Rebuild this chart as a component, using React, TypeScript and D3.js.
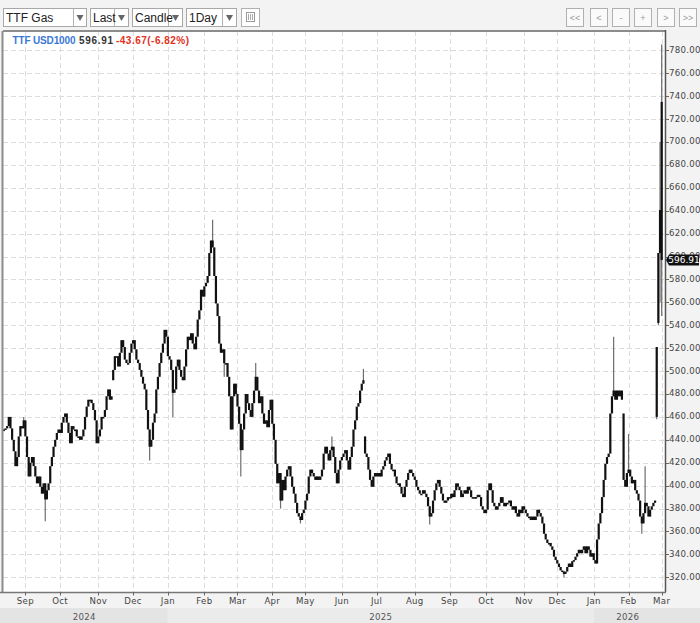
import React, { useEffect } from 'react';
import * as d3 from 'd3';

// --- data ---
const START_DATE = '2024-08-14';
const HOLIDAYS = ['2024-12-25', '2025-01-01', '2025-04-18', '2025-04-21', '2025-12-25', '2026-01-01'];

// daily closes, Aug 2024 - Feb 2025
const closesA = [
  449, 450, 452, 460, 450, 440, 430, 417, 425, 443, 452, 450, 457, 443, 425, 408, 420, 425, 417, 408,
  402, 408, 399, 393, 402, 388, 396, 402, 417, 425, 434, 440, 446, 449, 446, 455, 460, 463, 455, 446,
  437, 452, 449, 449, 443, 443, 440, 443, 449, 460, 469, 475, 475, 472, 466, 457, 437, 443, 449, 460,
  460, 466, 478, 484, 475, 478, 501, 513, 513, 504, 516, 527, 521, 510, 507, 507, 516, 524, 527, 519,
  510, 507, 501, 495, 489, 484, 466, 449, 434, 440, 455, 463, 484, 495, 507, 516, 524, 536, 530, 513,
  510, 501, 481, 484, 504, 510, 501, 495, 492, 504, 519, 530, 527, 533, 524, 519, 530, 545, 553, 571,
  565, 574, 577, 583, 603, 614, 608, 583, 559, 548, 524, 516, 519, 507,
];

// daily closes, Mar 2025 - Sep 2025
const closesB = [
  507, 495, 478, 449, 478, 489, 480, 469, 454, 431, 449, 463, 480, 472, 466, 460, 472, 483, 495, 483,
  472, 478, 463, 454, 457, 451, 466, 475, 454, 440, 419, 402, 411, 387, 405, 396, 408, 414, 417, 408,
  399, 393, 385, 376, 373, 370, 376, 379, 387, 393, 408, 414, 411, 408, 405, 408, 405, 408, 414, 428,
  434, 428, 422, 431, 434, 425, 411, 402, 414, 422, 425, 428, 431, 422, 414, 425, 434, 449, 457, 469,
  472, 483, 489, 492, 428, 425, 414, 405, 399, 408, 411, 408, 411, 408, 414, 417, 422, 425, 428, 419,
  414, 414, 408, 402, 402, 399, 393, 390, 399, 405, 411, 414, 411, 408, 405, 399, 396, 393, 393, 396,
  393, 390, 382, 373, 376, 387, 396, 402, 405, 399, 393, 387,
];

// daily closes, Sep 2025 - Feb 2026
const closesC = [
  385, 387, 390, 389, 393, 390, 396, 402, 399, 396, 390, 393, 396, 393, 399, 396, 390, 390, 390, 390,
  392, 390, 382, 379, 376, 379, 396, 402, 396, 385, 382, 379, 382, 385, 390, 385, 382, 385, 385, 387,
  382, 379, 382, 376, 373, 379, 376, 382, 379, 376, 373, 373, 370, 373, 370, 373, 379, 376, 373, 367,
  358, 353, 350, 350, 347, 344, 338, 335, 332, 329, 326, 325, 323, 325, 329, 332, 329, 334, 335, 338,
  341, 344, 341, 344, 347, 341, 347, 344, 338, 341, 335, 332, 353, 367, 376, 390, 405, 419, 425, 428,
  463, 478, 483, 475, 483, 478, 483, 475, 405, 399, 411, 414, 408, 402, 405, 396, 393, 387, 373, 367,
  376, 385, 382, 373, 379, 382, 385, 387,
];

// last sessions with full OHLC
const finalOpen = [460, 542, 603, 735];
const finalHigh = [521, 603, 700, 785];
const finalLow = [458, 540, 560, 548];
const finalClose = [521, 603, 640.58, 596.91];

// sessions that opened away from the prior close: [index, open]
const gapOpens: [number, number][] = [[66, 492], [218, 443], [374, 463]];
// visible wick extremes: [index, value]
const wickHighs: [number, number][] = [[12, 460], [126, 632], [152, 507], [198, 443], [217, 502], [368, 530], [377, 445], [387, 417]];
const wickLows: [number, number][] = [[25, 369], [88, 422], [102, 460], [133, 495], [143, 408], [167, 380], [179, 367], [257, 366], [338, 320], [385, 358]];

const yTickValues = [320, 340, 360, 380, 400, 420, 440, 460, 480, 500, 520, 540, 560, 580, 600, 620, 640, 660, 680, 700, 720, 740, 760, 780];

const LAST_PRICE = 596.91;
const CHANGE_LABEL = '-43.67(-6.82%)';
const SYMBOL_LABEL = 'TTF USD1000';

const dropdowns = [
  { label: 'TTF Gas', x: 3, w: 83, arrowW: 13 },
  { label: 'Last', x: 90, w: 38, arrowW: 14 },
  { label: 'Candle', x: 132, w: 50, arrowW: 14 },
  { label: '1Day', x: 186, w: 50, arrowW: 14 },
];
const navButtons = ['<<', '<', '-', '+', '>', '>>'];
const navButtonX = [566, 590, 612, 634, 657, 679];

// --- layout ---
const W = 700;
const H = 623;
const plot = { left: 3, right: 665, top: 31, bottom: 592 };
const font = '"DejaVu Sans", Verdana, sans-serif';
const uiFont = '"Liberation Sans", Arial, sans-serif';

interface Candle { i: number; date: Date; o: number; h: number; l: number; c: number; }

function buildCandles(): Candle[] {
  const closes = [...closesA, ...closesB, ...closesC];
  const n = closes.length + finalClose.length;
  const parse = d3.timeParse('%Y-%m-%d');
  const fmt = d3.timeFormat('%Y-%m-%d');
  const dates: Date[] = [];
  let d = parse(START_DATE)!;
  while (dates.length < n) {
    const wd = d.getDay();
    if (wd !== 0 && wd !== 6 && !HOLIDAYS.includes(fmt(d))) dates.push(d);
    d = d3.timeDay.offset(d, 1);
  }
  const gaps = new Map(gapOpens);
  const highs = new Map(wickHighs);
  const lows = new Map(wickLows);
  const out: Candle[] = [];
  closes.forEach((c, i) => {
    const o = gaps.get(i) ?? (i > 0 ? closes[i - 1] : c);
    const h = Math.max(o, c, highs.get(i) ?? -Infinity);
    const l = Math.min(o, c, lows.get(i) ?? Infinity);
    out.push({ i, date: dates[i], o, h, l, c });
  });
  finalClose.forEach((c, k) => {
    const i = closes.length + k;
    out.push({ i, date: dates[i], o: finalOpen[k], h: finalHigh[k], l: finalLow[k], c });
  });
  return out;
}

const App: React.FC = () => {
  useEffect(() => {
    document.body.style.margin = '0';
  }, []);

  const candles = buildCandles();
  const n = candles.length;

  const x = d3.scaleLinear().domain([-0.5, n + 1]).range([plot.left, plot.right]);
  const y = d3.scaleLinear().domain([320, 780]).range([577.3, 50.3]);

  // month ticks at first session of each month
  const monthTicks = candles.filter((c, k) => k > 0 && c.date.getMonth() !== candles[k - 1].date.getMonth());
  const yearStarts = monthTicks.filter(c => c.date.getMonth() === 0);
  const yearBands: { year: number; x0: number; x1: number; lx: number }[] = [];
  const bounds = [0, ...yearStarts.map(c => x(c.i)), W];
  const firstYear = candles[0].date.getFullYear();
  for (let k = 0; k < bounds.length - 1; k++) {
    const yr = firstYear + k;
    const inYear = candles.filter(c => c.date.getFullYear() === yr);
    const a = k === 0 ? x(inYear[0].i) - 3 : bounds[k];
    const b = k === bounds.length - 2 ? x(inYear[inYear.length - 1].i) : bounds[k + 1];
    yearBands.push({ year: yr, x0: bounds[k], x1: bounds[k + 1], lx: (a + b) / 2 });
  }

  const bodyW = 2.2;
  const markerY = y(LAST_PRICE);

  return (
    <svg width={W} height={H} style={{ display: 'block' }} xmlns="http://www.w3.org/2000/svg">
      <rect x={0} y={0} width={W} height={H} fill="#f3f3f3" />

      {/* toolbar */}
      {dropdowns.map(dd => (
        <g key={dd.label}>
          <rect x={dd.x + 0.5} y={8.5} width={dd.w} height={18} fill="#fff" stroke="#a8a8a8" />
          <line x1={dd.x + dd.w - dd.arrowW + 0.5} x2={dd.x + dd.w - dd.arrowW + 0.5} y1={9} y2={26} stroke="#b4b4b4" />
          <text x={dd.x + 3} y={22} fontFamily={uiFont} fontSize={12} fill="#222">{dd.label}</text>
          <path
            d={`M${dd.x + dd.w - dd.arrowW / 2 - 3},15 h7 l-3.5,6 z`}
            fill="#666"
          />
        </g>
      ))}
      <g>
        <rect x={241.5} y={8.5} width={18} height={18} fill="#fff" stroke="#b0b0b0" />
        <rect x={246.5} y={12.5} width={8} height={9} fill="none" stroke="#999" />
        {[248.5, 250.5, 252.5].map(lx => (
          <line key={lx} x1={lx} x2={lx} y1={14} y2={20} stroke="#aaa" />
        ))}
      </g>
      {navButtons.map((b, k) => (
        <g key={k}>
          <rect x={navButtonX[k] + 0.5} y={8.5} width={17} height={18} fill="#fafafa" stroke="#b0b0b0" />
          <text x={navButtonX[k] + 9} y={20.5} textAnchor="middle" fontFamily={uiFont} fontSize={9} fill="#999">{b}</text>
        </g>
      ))}

      {/* plot background */}
      <rect x={plot.left} y={plot.top} width={plot.right - plot.left} height={plot.bottom - plot.top} fill="#fff" />

      {/* grid */}
      <g stroke="#dcdcdc" strokeDasharray="5,3" strokeWidth={1}>
        {yTickValues.map(v => (
          <line key={v} x1={plot.left} x2={plot.right} y1={Math.round(y(v)) + 0.5} y2={Math.round(y(v)) + 0.5} />
        ))}
        {monthTicks.map(c => (
          <line key={c.i} x1={Math.round(x(c.i)) + 0.5} x2={Math.round(x(c.i)) + 0.5} y1={plot.top} y2={plot.bottom} />
        ))}
      </g>

      {/* header */}
      <g fontFamily={uiFont} fontSize={10} fontWeight="bold">
        <text x={12.5} y={44} fill="#3a78d8" textLength={63} lengthAdjust="spacing">{SYMBOL_LABEL}</text>
        <text x={79} y={44} fill="#333" textLength={34} lengthAdjust="spacing">{LAST_PRICE.toFixed(2)}</text>
        <text x={116} y={44} fill="#e2311d" textLength={73} lengthAdjust="spacing">{CHANGE_LABEL}</text>
      </g>

      {/* candles */}
      <g>
        {candles.map(c => {
          const cx = x(c.i);
          const top = y(Math.max(c.o, c.c));
          const bot = y(Math.min(c.o, c.c));
          const hasWick = c.h > Math.max(c.o, c.c) || c.l < Math.min(c.o, c.c);
          return (
            <g key={c.i}>
              {hasWick && (
                <line x1={cx} x2={cx} y1={y(c.h)} y2={y(c.l)} stroke="#6e6e6e" strokeWidth={1.2} />
              )}
              <rect
                x={cx - bodyW / 2}
                y={top}
                width={bodyW}
                height={Math.max(1.6, bot - top)}
                fill="#111"
              />
            </g>
          );
        })}
      </g>

      {/* frame */}
      <line x1={plot.left} x2={plot.right} y1={plot.top} y2={plot.top} stroke="#8c8c8c" strokeWidth={2} />
      <line x1={plot.left - 0.5} x2={plot.left - 0.5} y1={plot.top} y2={plot.bottom} stroke="#8c8c8c" strokeWidth={2} />
      <line x1={plot.right + 0.5} x2={plot.right + 0.5} y1={plot.top - 1} y2={plot.bottom} stroke="#555" strokeWidth={1.5} />
      <line x1={0} x2={plot.right + 1} y1={plot.bottom + 0.5} y2={plot.bottom + 0.5} stroke="#777" strokeWidth={1.5} />

      {/* y axis */}
      <g fontFamily={font} fontSize={8.6} fill="#444">
        {yTickValues.map(v => (
          <g key={v}>
            <line x1={plot.right + 1} x2={plot.right + 4} y1={Math.round(y(v)) + 0.5} y2={Math.round(y(v)) + 0.5} stroke="#666" />
            <text x={669} y={y(v)} dominantBaseline="middle" letterSpacing={0.3}>{v.toFixed(2)}</text>
          </g>
        ))}
      </g>

      {/* last price marker */}
      <g>
        <path
          d={`M${plot.right + 1},${markerY} L${plot.right + 4},${markerY - 5.5} H699 V${markerY + 5.5} H${plot.right + 4} Z`}
          fill="#111"
        />
        <text x={684} y={markerY + 0.5} textAnchor="middle" dominantBaseline="middle" fontFamily={font} fontSize={9} fill="#fff">
          {LAST_PRICE.toFixed(2)}
        </text>
      </g>

      {/* x axis */}
      <g fontFamily={font} fontSize={8.6} fill="#444">
        {monthTicks.map(c => (
          <g key={c.i}>
            <line x1={Math.round(x(c.i)) + 0.5} x2={Math.round(x(c.i)) + 0.5} y1={plot.bottom} y2={plot.bottom + 3.5} stroke="#666" />
            <text x={x(c.i)} y={604} textAnchor="middle" letterSpacing={0.3}>{d3.timeFormat('%b')(c.date)}</text>
          </g>
        ))}
      </g>

      {/* year band */}
      {yearBands.map((b, k) => (
        <g key={b.year}>
          <rect x={b.x0} y={608} width={b.x1 - b.x0} height={H - 608} fill={k % 2 === 0 ? '#e4e4e4' : '#ebebeb'} />
          <text x={b.lx} y={620} textAnchor="middle" fontFamily={font} fontSize={8.6} fill="#555" letterSpacing={0.3}>{b.year}</text>
        </g>
      ))}
    </svg>
  );
};

export default App;
